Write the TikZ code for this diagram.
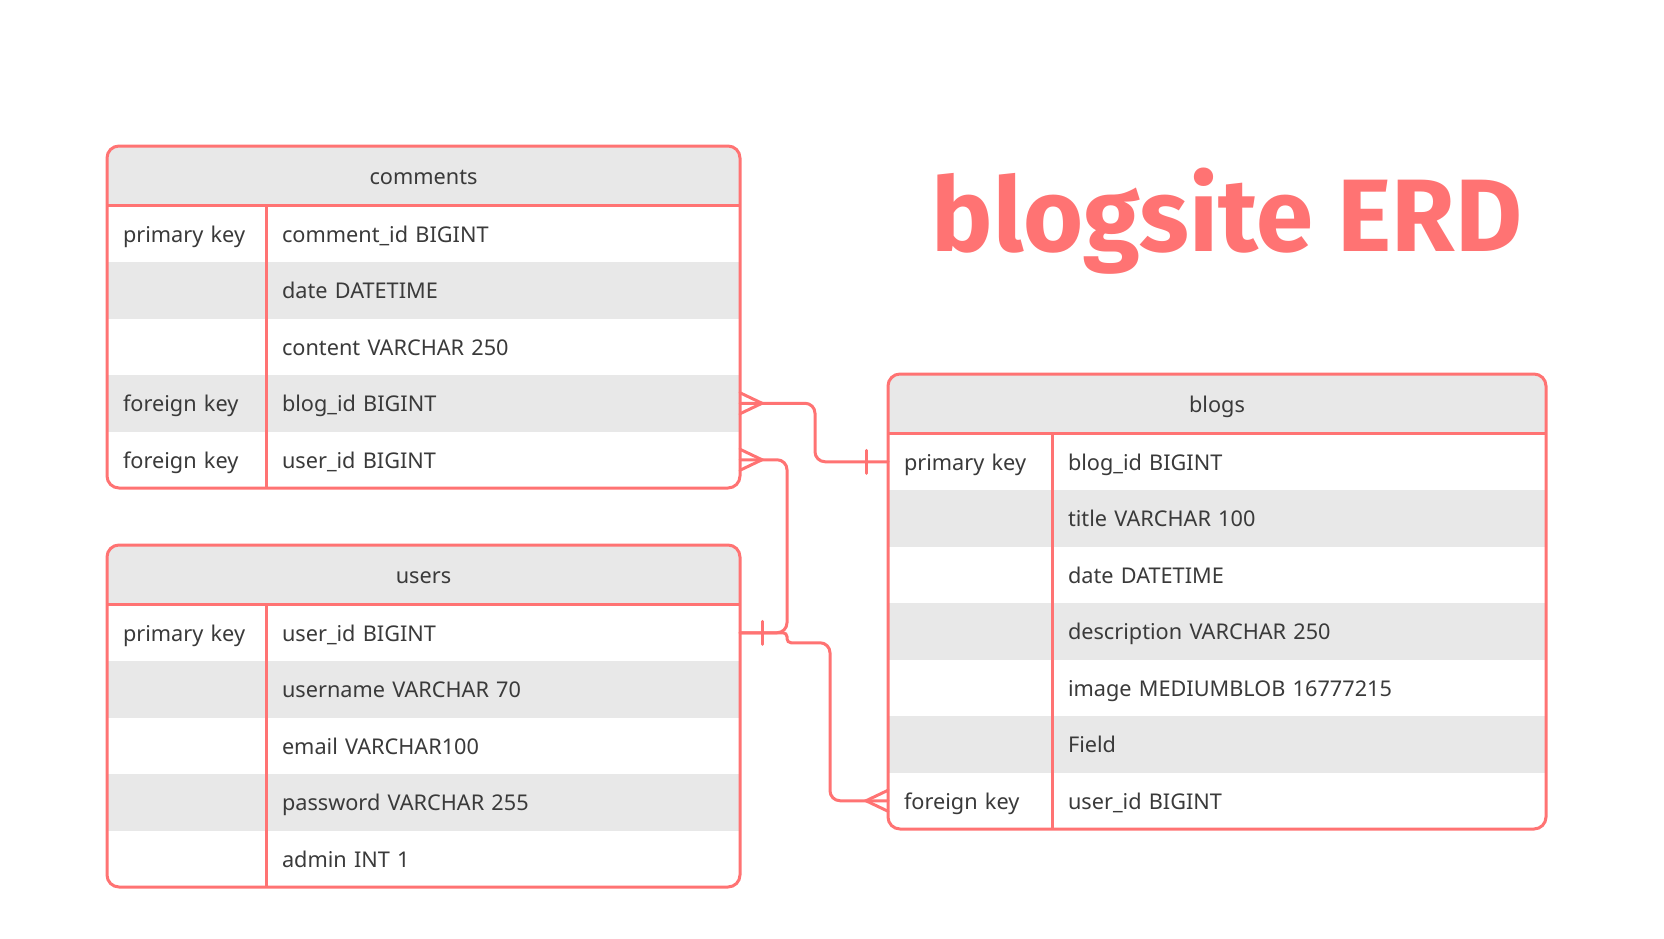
\documentclass[tikz,border=0pt]{standalone}
\usepackage{fontspec}
\setmainfont{Noto Sans}
\newfontfamily\titlefont{Fira Sans}
\usetikzlibrary{positioning, backgrounds}
\definecolor{erdred}{HTML}{FF7373}
\definecolor{rowgrey}{HTML}{E8E8E8}
\definecolor{txtgrey}{HTML}{3A3A3A}
\tikzset{
  cell/.style={anchor=north west, fill=white, inner xsep=16pt, inner ysep=0pt, outer sep=0pt,
    minimum height=56.5pt, text height=20pt, text depth=2.8pt, align=left, text=txtgrey,
    font=\fontsize{21.7}{26}\selectfont},
  keycell/.style={cell, text width=127pt},
  fieldcell/.style={cell, text width=442pt},
  bkeycell/.style={cell, text width=132pt},
  bfieldcell/.style={cell, text width=462pt},
  shade/.style={fill=rowgrey},
  hdr/.style={anchor=north west, inner sep=0pt, outer sep=0pt, minimum height=59.5pt,
    text height=20pt, text depth=2.8pt, text=txtgrey, font=\fontsize{21.7}{26}\selectfont},
  frame/.style={draw=erdred, line width=3pt, rounded corners=12pt},
  rule/.style={draw=erdred, line width=3pt},
  link/.style={draw=erdred, line width=3pt, rounded corners=10pt, line cap=round},
  crow/.pic={\draw[link, rounded corners=0pt] (0,-10.5) -- (22,0) -- (0,10.5);},
  onebar/.pic={\draw[link, rounded corners=0pt] (22,-11.5) -- (22,11.5);},
}

\begin{document}
\begin{tikzpicture}[x=1pt, y=-1pt]
  \useasboundingbox (0,0) rectangle (1664,938);

  % title
  \node[anchor=base, text=erdred, font=\titlefont\bfseries\fontsize{103}{103}\selectfont] (ttl) at (1227,251) {blogsite ERD};

  % comments
  \node[hdr, minimum width=633pt] (cmhd) at (107,146) {comments};
  \node[keycell] (cm1k) at (cmhd.south west) {primary key};
  \node[fieldcell] (cm1f) at (cm1k.north east) {comment\_id BIGINT};
  \node[keycell, shade] (cm2k) at (cm1k.south west) {};
  \node[fieldcell, shade] (cm2f) at (cm2k.north east) {date DATETIME};
  \node[keycell] (cm3k) at (cm2k.south west) {};
  \node[fieldcell] (cm3f) at (cm3k.north east) {content VARCHAR 250};
  \node[keycell, shade] (cm4k) at (cm3k.south west) {foreign key};
  \node[fieldcell, shade] (cm4f) at (cm4k.north east) {blog\_id BIGINT};
  \node[keycell] (cm5k) at (cm4k.south west) {foreign key};
  \node[fieldcell] (cm5f) at (cm5k.north east) {user\_id BIGINT};

  % users
  \node[hdr, minimum width=633pt] (ushd) at (107,545) {users};
  \node[keycell] (us1k) at (ushd.south west) {primary key};
  \node[fieldcell] (us1f) at (us1k.north east) {user\_id BIGINT};
  \node[keycell, shade] (us2k) at (us1k.south west) {};
  \node[fieldcell, shade] (us2f) at (us2k.north east) {username VARCHAR 70};
  \node[keycell] (us3k) at (us2k.south west) {};
  \node[fieldcell] (us3f) at (us3k.north east) {email VARCHAR100};
  \node[keycell, shade] (us4k) at (us3k.south west) {};
  \node[fieldcell, shade] (us4f) at (us4k.north east) {password VARCHAR 255};
  \node[keycell] (us5k) at (us4k.south west) {};
  \node[fieldcell] (us5f) at (us5k.north east) {admin INT 1};

  % blogs
  \node[hdr, minimum width=658pt] (bghd) at (888,374) {blogs};
  \node[bkeycell] (bg1k) at (bghd.south west) {primary key};
  \node[bfieldcell] (bg1f) at (bg1k.north east) {blog\_id BIGINT};
  \node[bkeycell, shade] (bg2k) at (bg1k.south west) {};
  \node[bfieldcell, shade] (bg2f) at (bg2k.north east) {title VARCHAR 100};
  \node[bkeycell] (bg3k) at (bg2k.south west) {};
  \node[bfieldcell] (bg3f) at (bg3k.north east) {date DATETIME};
  \node[bkeycell, shade] (bg4k) at (bg3k.south west) {};
  \node[bfieldcell, shade] (bg4f) at (bg4k.north east) {description VARCHAR 250};
  \node[bkeycell] (bg5k) at (bg4k.south west) {};
  \node[bfieldcell] (bg5f) at (bg5k.north east) {image MEDIUMBLOB 16777215};
  \node[bkeycell, shade] (bg6k) at (bg5k.south west) {};
  \node[bfieldcell, shade] (bg6f) at (bg6k.north east) {Field};
  \node[bkeycell] (bg7k) at (bg6k.south west) {foreign key};
  \node[bfieldcell] (bg7f) at (bg7k.north east) {user\_id BIGINT};

  % header backgrounds
  \begin{scope}[on background layer]
    \fill[rowgrey, rounded corners=12pt] (cmhd.north west) rectangle (cm5f.south east);
    \fill[rowgrey, rounded corners=12pt] (ushd.north west) rectangle (us5f.south east);
    \fill[rowgrey, rounded corners=12pt] (bghd.north west) rectangle (bg7f.south east);
  \end{scope}

  % frames
  \draw[rule] (cmhd.south west) -- (cmhd.south east);
  \draw[rule] (cm1k.north east) -- (cm5k.south east);
  \draw[frame] (cmhd.north west) rectangle (cm5f.south east);
  \draw[rule] (ushd.south west) -- (ushd.south east);
  \draw[rule] (us1k.north east) -- (us5k.south east);
  \draw[frame] (ushd.north west) rectangle (us5f.south east);
  \draw[rule] (bghd.south west) -- (bghd.south east);
  \draw[rule] (bg1k.north east) -- (bg7k.south east);
  \draw[frame] (bghd.north west) rectangle (bg7f.south east);

  % relations
  \draw[link] (cm4f.east) -- ++(75,0) |- (bg1k.west);
  \pic at (cm4f.east) {crow};
  \pic[xscale=-1] at (bg1k.west) {onebar};

  \draw[link] (cm5f.east) -- ++(47,0) |- (us1f.east);
  \pic at (cm5f.east) {crow};
  \pic at (us1f.east) {onebar};

  \draw[link, rounded corners=4pt] (us1f.east) -- ++(47,0) -- ++(0,10) [rounded corners=10pt] -- ++(43,0) |- (bg7k.west);
  \pic[xscale=-1] at (bg7k.west) {crow};
\end{tikzpicture}
\end{document}
